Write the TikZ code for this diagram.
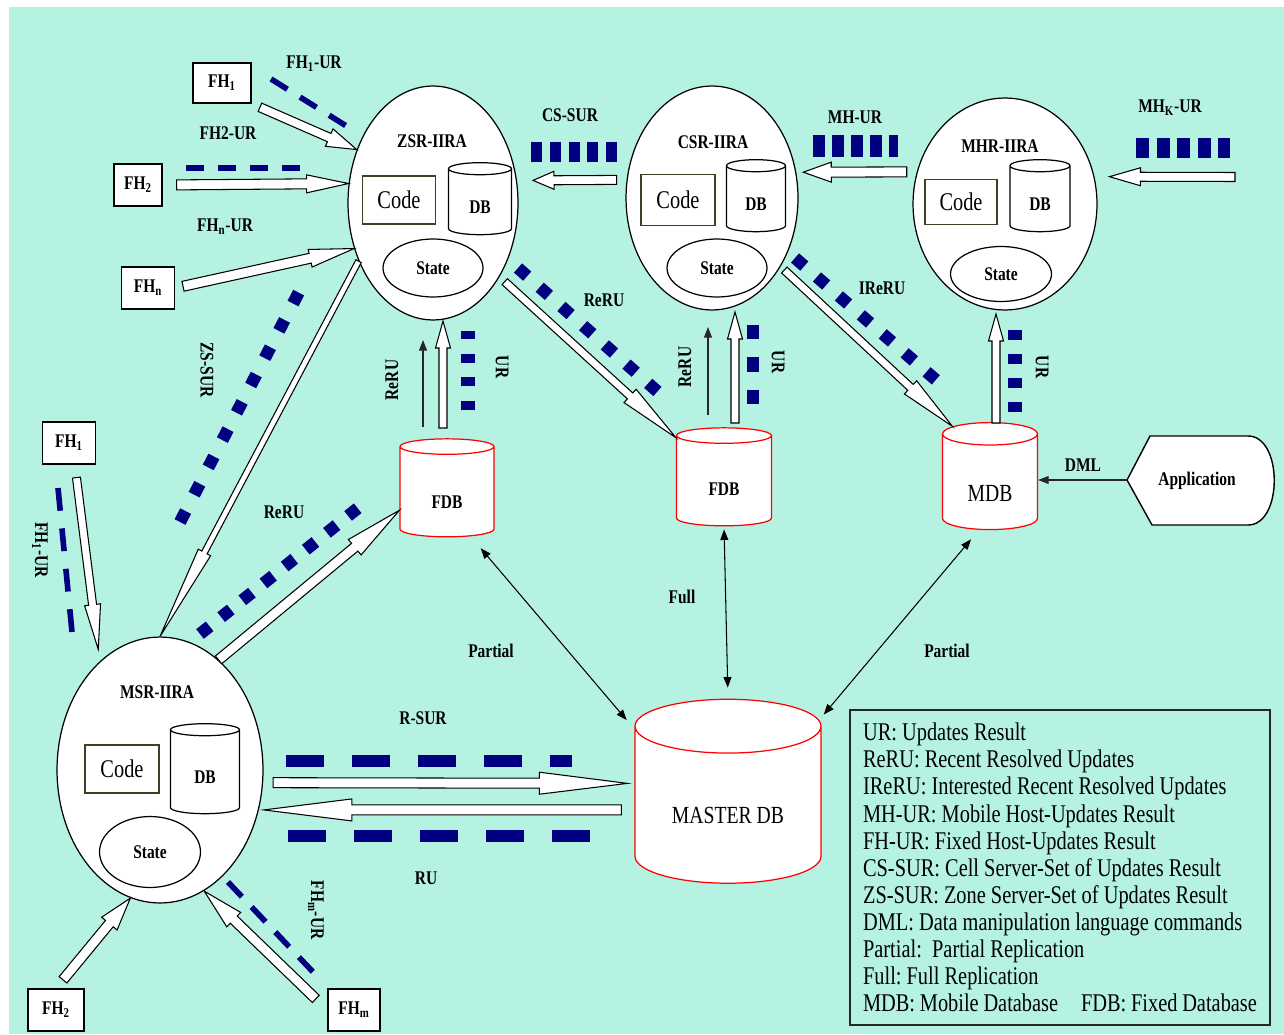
\documentclass[tikz,border=0pt]{standalone}
\usepackage{fontspec}
\setmainfont{Liberation Serif}[FakeStretch=0.8]
\usepackage{tikz}
\usetikzlibrary{arrows.meta, shapes.geometric, calc}
\definecolor{mint}{RGB}{181,242,226}
\definecolor{navyblue}{RGB}{0,0,128}
\definecolor{codeedge}{RGB}{64,64,32}
\newcommand{\pxu}{0.569pt}
\tikzset{
  ha shaft/.store in=\haS, ha head/.store in=\haH, ha hlen/.store in=\haL,
  ha pre/.store in=\haPre, ha post/.store in=\haPost,
  ha shaft=4.5, ha head=9, ha hlen=30, ha pre=0, ha post=0
}
\newcommand{\blockarrow}[3][]{%
  \path let \p1=(#2), \p2=(#3) in \pgfextra{%
    \pgfmathsetmacro\baAng{atan2(\y2-\y1,\x2-\x1)}%
    \pgfmathsetmacro\baLen{veclen(\x2-\x1,\y2-\y1)}%
    \global\let\baAng\baAng\global\let\baLen\baLen};
  \draw[hollowarrow,#1,shift={(#2)},rotate=\baAng]
    ({\haPre*\pxu},{-\haS*\pxu}) -- ({\baLen pt-(\haPost+\haL)*\pxu},{-\haS*\pxu})
    -- ({\baLen pt-(\haPost+\haL)*\pxu},{-\haH*\pxu}) -- ({\baLen pt-\haPost*\pxu},0pt)
    -- ({\baLen pt-(\haPost+\haL)*\pxu},{\haH*\pxu}) -- ({\baLen pt-(\haPost+\haL)*\pxu},{\haS*\pxu})
    -- ({\haPre*\pxu},{\haS*\pxu}) -- cycle;
}

\begin{document}
\begin{tikzpicture}[x=0.02cm, y=-0.02cm,
  lbl/.style={font=\fontsize{11}{12}\selectfont\bfseries, inner sep=0pt},
  server/.style={ellipse, draw, fill=white, line width=0.7pt, inner sep=0pt},
  codebox/.style={rectangle, draw=codeedge, fill=white, line width=0.8pt, inner sep=0pt,
               font=\fontsize{14.5}{16}\selectfont},
  dbcyl/.style={cylinder, shape border rotate=90, aspect=0.56, draw, fill=white, line width=0.7pt,
               inner sep=0pt, text height=13pt, text depth=0pt, font=\fontsize{11}{12}\selectfont\bfseries},
  statebox/.style={ellipse, draw, fill=white, line width=0.7pt, inner sep=0pt,
               font=\fontsize{11}{12}\selectfont\bfseries},
  fhbox/.style={rectangle, draw, fill=white, line width=0.8pt, inner sep=0pt,
               minimum height=42*\pxu, font=\fontsize{11}{12}\selectfont\bfseries},
  reddb/.style={cylinder, shape border rotate=90, aspect=0.5, draw=red, fill=white, line width=0.7pt,
               inner sep=0pt, text height=16pt, text depth=0pt, font=\fontsize{11}{12}\selectfont\bfseries},
  hollowarrow/.style={draw, fill=white, line width=0.6pt, line join=miter},
  vertarrow/.style={ha shaft=4, ha head=7.5, ha hlen=27},
  fhdash/.style={navyblue, line width=3.2pt, dash pattern=#1},
  bigdash/.style={navyblue, line width=6.8pt, dash pattern=on 21.6pt off 15.9pt},
  squares/.style={navyblue, line width=7pt, dash pattern=on 7pt off #1},
  blocks/.style={navyblue, line width=#1},
  thinarrow/.style={-{Triangle[length=6pt,width=4.5pt]}, line width=0.6pt, black!85},
  biarrow/.style={{Triangle[length=6pt,width=4.5pt]}-{Triangle[length=6pt,width=4.5pt]}, line width=0.6pt},
  legbox/.style={rectangle, draw=black!85, line width=1pt, align=flush left, text width=394*\pxu,
               inner xsep=13*\pxu, minimum height=315*\pxu,
               font=\fontsize{14.5}{15.4}\selectfont\frenchspacing}
]
\useasboundingbox (0,0) rectangle (1284,1034);
\fill[white] (0,0) rectangle (1284,1034);
\fill[mint] (9,7) rectangle (1284,1034);

\node[server, minimum width=170*\pxu, minimum height=234*\pxu] (zsr) at (433,203) {};
\node[server, minimum width=172*\pxu, minimum height=224*\pxu] (csr) at (712,198) {};
\node[server, minimum width=184*\pxu, minimum height=212*\pxu] (mhr) at (1005,204) {};
\node[server, minimum width=206*\pxu, minimum height=266*\pxu] (msr) at (160,770) {};

\node[lbl] (zsrname) at (432,141) {ZSR-IIRA};
\node[lbl] (csrname) at (713,142) {CSR-IIRA};
\node[lbl] (mhrname) at (1000,146) {MHR-IIRA};
\node[lbl] (msrname) at (157,692) {MSR-IIRA};

\node[codebox, minimum width=73*\pxu, minimum height=48*\pxu] (zsrcode) at (399,200) {Code};
\node[codebox, minimum width=74*\pxu, minimum height=51*\pxu] (csrcode) at (678,200) {Code};
\node[codebox, minimum width=72*\pxu, minimum height=45*\pxu] (mhrcode) at (961,202) {Code};
\node[codebox, minimum width=74*\pxu, minimum height=48*\pxu] (msrcode) at (122,769) {Code};

\node[dbcyl, minimum width=63*\pxu, minimum height=72*\pxu] (zsrdb) at (480,202) {DB};
\node[dbcyl, minimum width=59*\pxu, minimum height=72*\pxu] (csrdb) at (756,199) {DB};
\node[dbcyl, minimum width=60*\pxu, minimum height=72*\pxu] (mhrdb) at (1040,199) {DB};
\node[dbcyl, minimum width=69*\pxu, minimum height=90*\pxu] (msrdb) at (205,772) {DB};

\node[statebox, minimum width=100*\pxu, minimum height=58*\pxu] (zsrstate) at (433,268) {State};
\node[statebox, minimum width=100*\pxu, minimum height=58*\pxu] (csrstate) at (717,268) {State};
\node[statebox, minimum width=101*\pxu, minimum height=55*\pxu] (mhrstate) at (1001,274) {State};
\node[statebox, minimum width=101*\pxu, minimum height=71*\pxu] (msrstate) at (150,852) {State};

\node[fhbox, minimum width=58*\pxu, minimum height=40*\pxu] (fh1) at (222,83) {FH\textsubscript{1}};
\node[fhbox, minimum width=48*\pxu] (fh2) at (138,185) {FH\textsubscript{2}};
\node[fhbox, minimum width=53*\pxu] (fhn) at (148,288) {FH\textsubscript{n}};
\node[fhbox, minimum width=53*\pxu] (fh1b) at (69,443) {FH\textsubscript{1}};
\node[fhbox, minimum width=56*\pxu] (fh2b) at (56,1010) {FH\textsubscript{2}};
\node[fhbox, minimum width=52*\pxu] (fhm) at (354,1010) {FH\textsubscript{m}};

\node[reddb, minimum width=94*\pxu, minimum height=98*\pxu, text height=19pt] (fdb1) at (447,492) {FDB};
\node[reddb, minimum width=95*\pxu, minimum height=98*\pxu] (fdb2) at (724,481) {FDB};
\node[reddb, minimum width=95*\pxu, minimum height=107*\pxu, text height=22.5pt,
      font=\fontsize{14}{15}\selectfont] (mdb) at (990,482) {MDB};
\node[reddb, aspect=0.48, minimum width=186*\pxu, minimum height=184*\pxu, text height=20.5pt,
      font=\fontsize{14}{15}\selectfont] (master) at (728,805) {MASTER DB};

\coordinate (appc) at (1197,481);
\begin{scope}[shift={(appc)}]
\draw[fill=white, line width=0.8pt] (-70,-1) coordinate (appl) -- (-47,-45) -- (51,-45)
  .. controls (86,-45) and (86,44) .. (51,44) -- (-45,44) -- cycle;
\end{scope}
\node[lbl] (app) at (appc) {Application};

\coordinate (reru1a) at (423,427); \coordinate (reru1b) at (423,340);
\coordinate (ur1a) at (443,428); \coordinate (ur1b) at (443,321);
\coordinate (reru2a) at (708,415); \coordinate (reru2b) at (708,327);
\coordinate (ur2a) at (735,423); \coordinate (ur2b) at (735,312);
\coordinate (ur3a) at (996,423); \coordinate (ur3b) at (996,314);
\coordinate (mhkin) at (1235,177);

\blockarrow[ha pre=9, ha shaft=4.5, ha head=9.5, ha hlen=30]{fh1.south east}{zsr.145}
\blockarrow[ha pre=14, ha shaft=5, ha head=9, ha hlen=42]{fh2.east}{zsr.167}
\blockarrow[ha pre=8, ha shaft=5, ha head=9, ha hlen=45]{fhn.east}{zsr.210}
\blockarrow[ha shaft=3, ha head=7, ha hlen=95]{zsr.218}{msr.90}
\blockarrow[ha shaft=5, ha head=10, ha hlen=58]{msr.62}{fdb1.201}
\blockarrow[vertarrow]{ur1a}{ur1b}
\blockarrow[ha pre=7, ha shaft=4, ha head=9, ha hlen=62]{zsr.312}{fdb2.138}
\blockarrow[vertarrow]{ur2a}{ur2b}
\blockarrow[ha pre=5, ha shaft=4, ha head=9, ha hlen=57]{csr.315}{mdb.124}
\blockarrow[vertarrow]{ur3a}{ur3b}
\blockarrow[ha pre=10, ha post=16, ha shaft=4.5, ha head=9, ha hlen=21]{csr.168}{zsr.15}
\blockarrow[ha pre=10, ha post=7, ha shaft=5, ha head=10, ha hlen=28]{mhr.160}{csr.17}
\blockarrow[ha post=15, ha shaft=4.5, ha head=9, ha hlen=31]{mhkin}{mhr.17}
\blockarrow[ha pre=10, ha post=7, ha shaft=5, ha head=11, ha hlen=88]{msr.353}{master.167}
\blockarrow[ha pre=13, ha post=5, ha shaft=5, ha head=11, ha hlen=88]{master.183}{msr.338}
\blockarrow[ha pre=11, ha shaft=5, ha head=10, ha hlen=33]{fh2b.north}{msr.257}
\blockarrow[ha pre=16, ha shaft=5, ha head=10, ha hlen=41]{fhm.west}{msr.290}
\blockarrow[ha pre=13, ha post=12, ha shaft=4, ha head=8, ha hlen=45]{fh1b.285}{msr.119}

\draw[thinarrow] (reru1a) -- (reru1b);
\draw[thinarrow] (reru2a) -- (reru2b);
\draw[thinarrow] (appl) -- (appl -| mdb.east);
\draw[biarrow, shorten <=8.9pt, shorten >=6.8pt] (fdb1.298) -- (master.141);
\draw[biarrow, shorten <=1.7pt, shorten >=6.3pt] (fdb2.south) -- (master.north);
\draw[biarrow, shorten <=7pt, shorten >=4pt] (mdb.257) -- (master.43);

\draw[fhdash={on 11pt off 8.5pt}] (271,79) -- (348,127);
\draw[fhdash={on 10.2pt off 8pt}] (186,168) -- (300,168);
\draw[fhdash={on 13pt off 10.1pt}] (58,488) -- (72,632);
\draw[fhdash={on 11.5pt off 8.1pt}] (228,882) -- (313,972);
\draw[bigdash] (286,761) -- (572,761);
\draw[bigdash] (288,836) -- (590,836);
\draw[squares=10.5pt] (180,522) -- (299,292);
\draw[squares=8.4pt] (200,634) -- (358,508);
\draw[squares=9.5pt] (518,268) -- (658,392);
\draw[squares=9.5pt] (795,258) -- (936,380);
\draw[blocks=8.5pt, dash pattern=on 5.1pt off 8.2pt] (468,330.5) -- (468,409.5);
\draw[blocks=6.8pt, dash pattern=on 8.5pt off 10pt] (753,324.5) -- (753,404.5);
\draw[blocks=8pt, dash pattern=on 5.7pt off 8pt] (1015,330) -- (1015,412);
\draw[blocks=11.4pt, dash pattern=on 6.3pt off 4.4pt] (531,152) -- (617,152);
\draw[blocks=12.5pt, dash pattern=on 6.8pt off 4pt] (813,146) -- (898,146);
\draw[blocks=11.4pt, dash pattern=on 7.4pt off 4.3pt] (1136,148) -- (1230,148);

\node[lbl] (fh1ur) at (314,64) {FH\textsubscript{1}-UR};
\node[lbl] (fh2ur) at (228,133) {FH2-UR};
\node[lbl] (fhnur) at (225,227) {FH\textsubscript{n}-UR};
\node[lbl] (cssur) at (570,115) {CS-SUR};
\node[lbl] (mhur) at (855,117) {MH-UR};
\node[lbl] (mhkur) at (1170,108) {MH\textsubscript{K}-UR};
\node[lbl, rotate=-90] (zssur) at (207,370) {ZS-SUR};
\node[lbl] (reruA) at (284,512) {ReRU};
\node[lbl] (reruB) at (604,300) {ReRU};
\node[lbl] (ireru) at (882,288) {IReRU};
\node[lbl, rotate=90] (reruC) at (392,380) {ReRU};
\node[lbl, rotate=-90] (urA) at (502,367) {UR};
\node[lbl, rotate=90] (reruD) at (685,367) {ReRU};
\node[lbl, rotate=-90] (urB) at (778,362) {UR};
\node[lbl, rotate=-90] (urC) at (1042,367) {UR};
\node[lbl, rotate=-90] (fh1bur) at (40,550) {FH\textsubscript{1}-UR};
\node[lbl, rotate=-90] (fhmur) at (316,910) {FH\textsubscript{m}-UR};
\node[lbl] (rsur) at (423,718) {R-SUR};
\node[lbl] (ru) at (426,878) {RU};
\node[lbl] (partialL) at (491,651) {Partial};
\node[lbl] (full) at (682,597) {Full};
\node[lbl] (partialR) at (947,651) {Partial};
\node[lbl] (dml) at (1083,465) {DML};

\node[legbox] (legend) at (1060,867.5) {UR: Updates Result\\
ReRU: Recent Resolved Updates\\
IReRU: Interested Recent Resolved Updates\\
MH-UR: Mobile Host-Updates Result\\
FH-UR: Fixed Host-Updates Result\\
CS-SUR: Cell Server-Set of Updates Result\\
ZS-SUR: Zone Server-Set of Updates Result\\
DML: Data manipulation language commands\\
Partial:~ Partial Replication\\
Full: Full Replication\\
MDB: Mobile Database\hspace{13pt}FDB: Fixed Database};
\end{tikzpicture}
\end{document}
